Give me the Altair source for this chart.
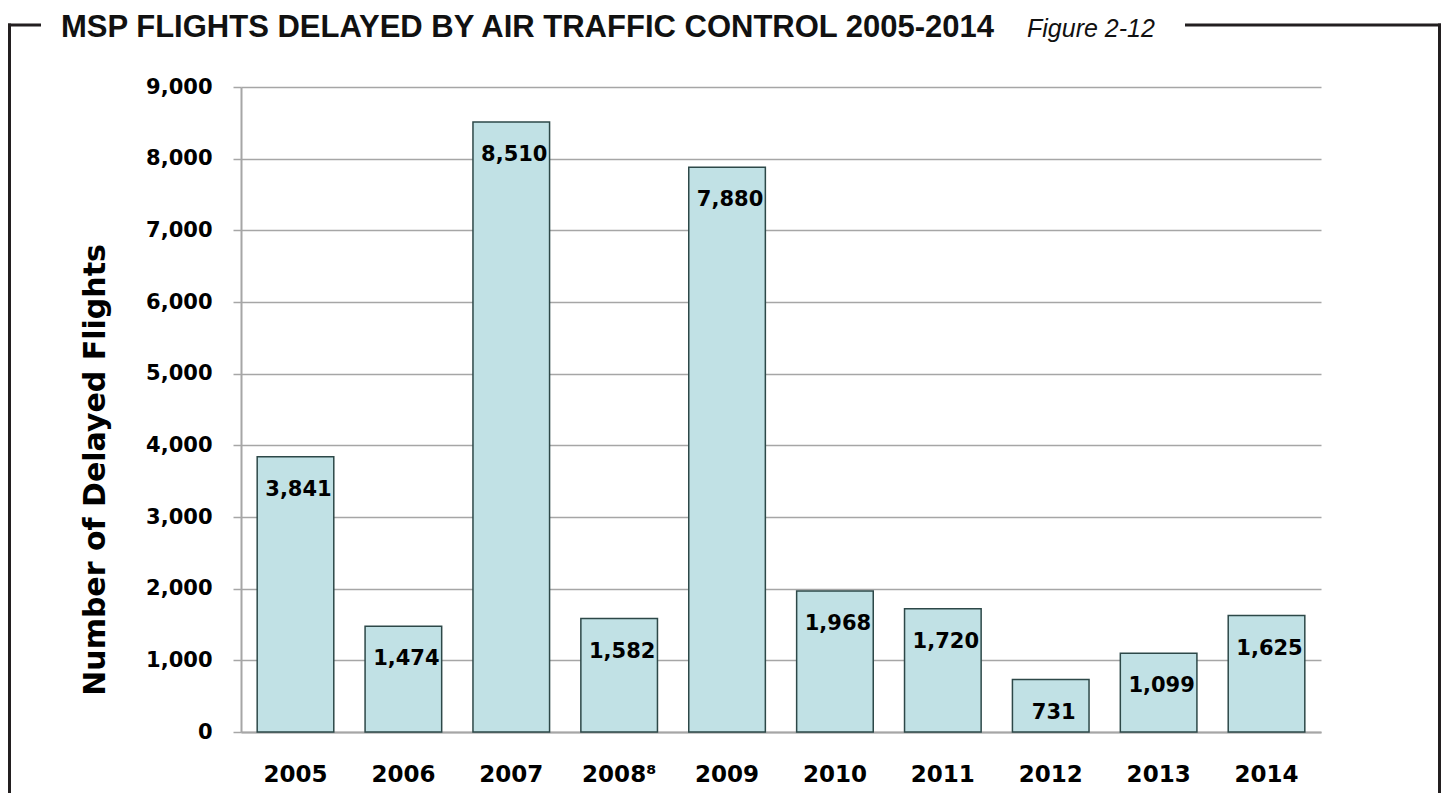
import altair as alt
import pandas as pd

# ---------------- data ----------------
YEARS = ["2005", "2006", "2007", "2008", "2009", "2010", "2011", "2012", "2013", "2014"]
DELAYED = [3841, 1474, 8510, 1582, 7880, 1968, 1720, 731, 1099, 1625]
Y_TICKS = [0, 1000, 2000, 3000, 4000, 5000, 6000, 7000, 8000, 9000]
TITLE = "MSP FLIGHTS DELAYED BY AIR TRAFFIC CONTROL 2005-2014"
FIGURE = "Figure 2-12"
Y_TITLE = "Number of Delayed Flights"
FOOTNOTE_YEAR = "2008"
FOOTNOTE_MARK = "\u2078"

df = pd.DataFrame({"year": YEARS, "flights": DELAYED})
one = pd.DataFrame({"k": [0]})

# ---------------- layout ----------------
W, H = 1080, 645
PAD_L, PAD_T, PAD_R, PAD_B = 233, 79, 120, 61


def px(xp):
    return xp - 8 - PAD_L


def py(yp):
    return yp - 8 - PAD_T


FRAME = "#231f20"
GRID = "#a6a6a6"
NUM_FONT = "DejaVu Sans"

x_enc = alt.X(
    "year:N",
    sort=YEARS,
    scale=alt.Scale(paddingInner=0.29, paddingOuter=0.15),
    axis=alt.Axis(
        title=None,
        ticks=False,
        tickSize=0,
        labelAngle=0,
        labelFont=NUM_FONT,
        labelFontWeight="bold",
        labelFontSize=23,
        labelColor="black",
        labelPadding=31,
        labelExpr=f"datum.label == '{FOOTNOTE_YEAR}' ? '{FOOTNOTE_YEAR}{FOOTNOTE_MARK}' : datum.label",
        domainColor=GRID,
        domainWidth=2,
        grid=False,
    ),
)

y_enc = alt.Y(
    "flights:Q",
    scale=alt.Scale(domain=[0, 9000], nice=False),
    axis=alt.Axis(
        title=None,
        values=Y_TICKS,
        format=",.0f",
        labelFont=NUM_FONT,
        labelFontWeight="bold",
        labelFontSize=21,
        labelColor="black",
        labelPadding=21,
        tickSize=8,
        tickColor=GRID,
        tickWidth=1.5,
        domainColor=GRID,
        domainWidth=2,
        gridColor=GRID,
        gridWidth=1.5,
    ),
)

bars = alt.Chart(df).mark_bar(
    fill="#c1e1e5", stroke="#2d4848", strokeWidth=1.5
).encode(x=x_enc, y=y_enc)

labels = alt.Chart(df).mark_text(
    baseline="middle",
    dy=33,
    dx=3,
    font=NUM_FONT,
    fontWeight="bold",
    fontSize=21,
    color="black",
).encode(
    x=alt.X("year:N", sort=YEARS),
    y="flights:Q",
    text=alt.Text("flights:Q", format=",.0f"),
)


# frame lines
def hrule(x1, x2, y):
    return alt.Chart(one).mark_rule(color=FRAME, strokeWidth=3).encode(
        x=alt.value(px(x1)), x2=alt.value(px(x2)), y=alt.value(py(y))
    )


def vrule(x, y1, y2):
    return alt.Chart(one).mark_rule(color=FRAME, strokeWidth=3).encode(
        x=alt.value(px(x)), y=alt.value(py(y1)), y2=alt.value(py(y2))
    )


FRAME_TOP = 25
frame = (
    hrule(8, 41, FRAME_TOP)
    + hrule(1185, 1441, FRAME_TOP)
    + vrule(9.5, FRAME_TOP - 1.5, 793)
    + vrule(1439.5, FRAME_TOP - 1.5, 793)
)

title = alt.Chart(one).mark_text(
    text=TITLE,
    align="left",
    baseline="alphabetic",
    font="Liberation Sans",
    fontWeight="bold",
    fontSize=31,
    color="#111111",
).encode(x=alt.value(px(61)), y=alt.value(py(37)))

figure = alt.Chart(one).mark_text(
    text=FIGURE,
    align="left",
    baseline="alphabetic",
    font="Liberation Sans",
    fontStyle="italic",
    fontSize=25,
    color="#111111",
).encode(x=alt.value(px(1027)), y=alt.value(py(37)))

ytitle = alt.Chart(one).mark_text(
    text=Y_TITLE,
    align="center",
    baseline="middle",
    angle=270,
    font=NUM_FONT,
    fontWeight="bold",
    fontSize=30,
    color="black",
).encode(x=alt.value(px(96)), y=alt.value(py(470)))

chart = (
    alt.layer(bars, labels, frame, title, figure, ytitle)
    .properties(
        width=W,
        height=H,
        padding={"left": PAD_L, "top": PAD_T, "right": PAD_R, "bottom": PAD_B},
        autosize=alt.AutoSizeParams(type="none"),
        background="white",
    )
    .configure_view(strokeWidth=0)
)

chart.save("out.html", embed_options={"renderer": "svg", "actions": False})
